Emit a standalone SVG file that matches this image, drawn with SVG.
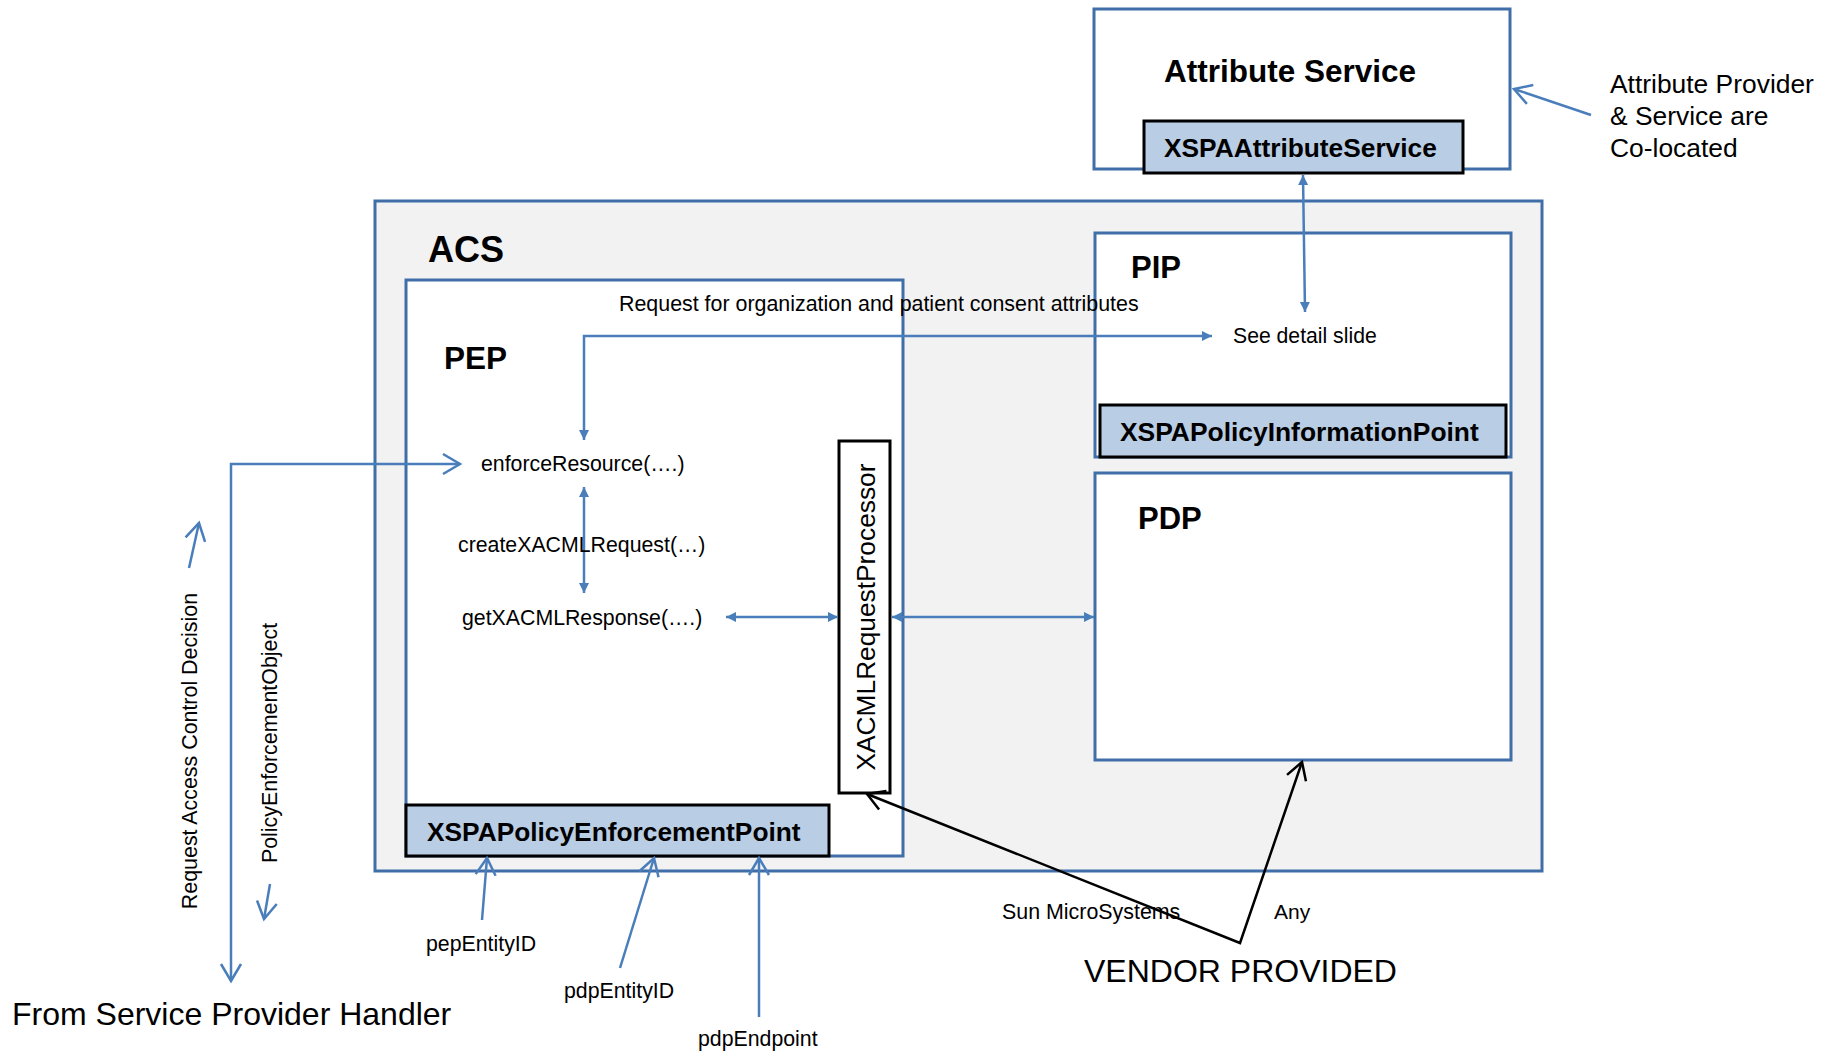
<svg xmlns="http://www.w3.org/2000/svg" width="1832" height="1052" viewBox="0 0 1832 1052">
<style>
.box{fill:#fff;stroke:#3f6ea8;stroke-width:3}
.acs{fill:#f2f2f2;stroke:#3f6ea8;stroke-width:3}
.comp{fill:#b9cde5;stroke:#000;stroke-width:3}
.proc{fill:#fff;stroke:#000;stroke-width:3}
.t{font-family:"Liberation Sans",Arial,sans-serif;fill:#000}
.b{font-weight:bold}
.c{fill:none;stroke:#4a7ebb;stroke-width:2.5}
.k{fill:none;stroke:#000;stroke-width:2.5}
</style>
<defs>
<marker id="tri" markerUnits="userSpaceOnUse" markerWidth="12" markerHeight="12" refX="10" refY="5" orient="auto-start-reverse" overflow="visible">
<path d="M0,0 L10,5 L0,10 z" fill="#4a7ebb"/>
</marker>
<marker id="open" markerUnits="userSpaceOnUse" markerWidth="24" markerHeight="24" refX="20" refY="10" orient="auto-start-reverse" overflow="visible">
<path d="M3,0 L20,10 L3,20" fill="none" stroke="#4a7ebb" stroke-width="2.5"/>
</marker>
<marker id="openk" markerUnits="userSpaceOnUse" markerWidth="24" markerHeight="24" refX="20" refY="10" orient="auto-start-reverse" overflow="visible">
<path d="M3,0 L20,10 L3,20" fill="none" stroke="#000" stroke-width="2.5"/>
</marker>
</defs>

<g id="acs">
<rect class="acs" x="375" y="201" width="1167" height="670"/>
<text class="t b" x="428" y="262" font-size="36">ACS</text>
</g>

<g id="attribute-service">
<rect class="box" x="1094" y="9" width="416" height="160"/>
<text class="t b" x="1164" y="82" font-size="31.5">Attribute Service</text>
</g>
<g id="xspa-attribute-service">
<rect class="comp" x="1144" y="121" width="319" height="52"/>
<text class="t b" x="1164" y="157" font-size="26.3">XSPAAttributeService</text>
</g>

<g id="pep">
<rect class="box" x="406" y="280" width="497" height="576"/>
<text class="t b" x="444" y="369" font-size="31.5">PEP</text>
</g>
<g id="xspa-pep">
<rect class="comp" x="406" y="805" width="423" height="51"/>
<text class="t b" x="427" y="841" font-size="26.3">XSPAPolicyEnforcementPoint</text>
</g>

<g id="pip">
<rect class="box" x="1095" y="233" width="416" height="224"/>
<text class="t b" x="1131" y="278" font-size="31">PIP</text>
</g>
<g id="xspa-pip">
<rect class="comp" x="1100" y="405" width="406" height="52"/>
<text class="t b" x="1120" y="441" font-size="26.4">XSPAPolicyInformationPoint</text>
</g>

<g id="pdp">
<rect class="box" x="1095" y="473" width="416" height="287"/>
<text class="t b" x="1138" y="529" font-size="31">PDP</text>
</g>

<g id="xacml-request-processor">
<rect class="proc" x="839" y="441" width="51" height="352"/>
<text class="t" x="875" y="617" font-size="26.3" text-anchor="middle" transform="rotate(-90 875 617)">XACMLRequestProcessor</text>
</g>

<g id="connectors">
<line class="c" x1="1591" y1="115" x2="1514" y2="89" marker-end="url(#open)"/>
<line class="c" x1="1303" y1="175" x2="1305" y2="312" marker-start="url(#tri)" marker-end="url(#tri)"/>
<path class="c" d="M584,440 L584,336 L1212,336" marker-start="url(#tri)" marker-end="url(#tri)"/>
<line class="c" x1="584" y1="487" x2="584" y2="593" marker-start="url(#tri)" marker-end="url(#tri)"/>
<line class="c" x1="726" y1="617" x2="838" y2="617" marker-start="url(#tri)" marker-end="url(#tri)"/>
<line class="c" x1="892" y1="617" x2="1094" y2="617" marker-start="url(#tri)" marker-end="url(#tri)"/>
<path class="c" d="M231,981 L231,464 L460,464" marker-start="url(#open)" marker-end="url(#open)"/>
<line class="c" x1="189" y1="568" x2="199" y2="523" marker-end="url(#open)"/>
<line class="c" x1="270" y1="884" x2="264" y2="919" marker-end="url(#open)"/>
<line class="c" x1="482" y1="920" x2="487" y2="858" marker-end="url(#open)"/>
<line class="c" x1="620" y1="968" x2="654" y2="858" marker-end="url(#open)"/>
<line class="c" x1="759" y1="1017" x2="759" y2="858" marker-end="url(#open)"/>
<path class="k" d="M867,794 L1240,943 L1302,762" marker-start="url(#openk)" marker-end="url(#openk)"/>
</g>

<g id="labels">
<text class="t" x="1610" y="93" font-size="26.4">Attribute Provider</text>
<text class="t" x="1610" y="125" font-size="26.4">&amp; Service are</text>
<text class="t" x="1610" y="157" font-size="26.4">Co-located</text>
<text class="t" x="619" y="311" font-size="21.4">Request for organization and patient consent attributes</text>
<text class="t" x="1233" y="343" font-size="21.2">See detail slide</text>
<text class="t" x="481" y="471" font-size="21.3">enforceResource(….)</text>
<text class="t" x="458" y="552" font-size="21.3">createXACMLRequest(…)</text>
<text class="t" x="462" y="625" font-size="21.3">getXACMLResponse(….)</text>
<text class="t" x="197" y="751" font-size="21.4" text-anchor="middle" transform="rotate(-90 197 751)">Request Access Control Decision</text>
<text class="t" x="277" y="743" font-size="21.4" text-anchor="middle" transform="rotate(-90 277 743)">PolicyEnforcementObject</text>
<text class="t" x="12" y="1025" font-size="32">From Service Provider Handler</text>
<text class="t" x="426" y="951" font-size="21.3">pepEntityID</text>
<text class="t" x="564" y="998" font-size="21.3">pdpEntityID</text>
<text class="t" x="698" y="1046" font-size="21.3">pdpEndpoint</text>
<text class="t" x="1002" y="919" font-size="21.4">Sun MicroSystems</text>
<text class="t" x="1274" y="919" font-size="21">Any</text>
<text class="t" x="1084" y="982" font-size="32">VENDOR PROVIDED</text>
</g>
</svg>
